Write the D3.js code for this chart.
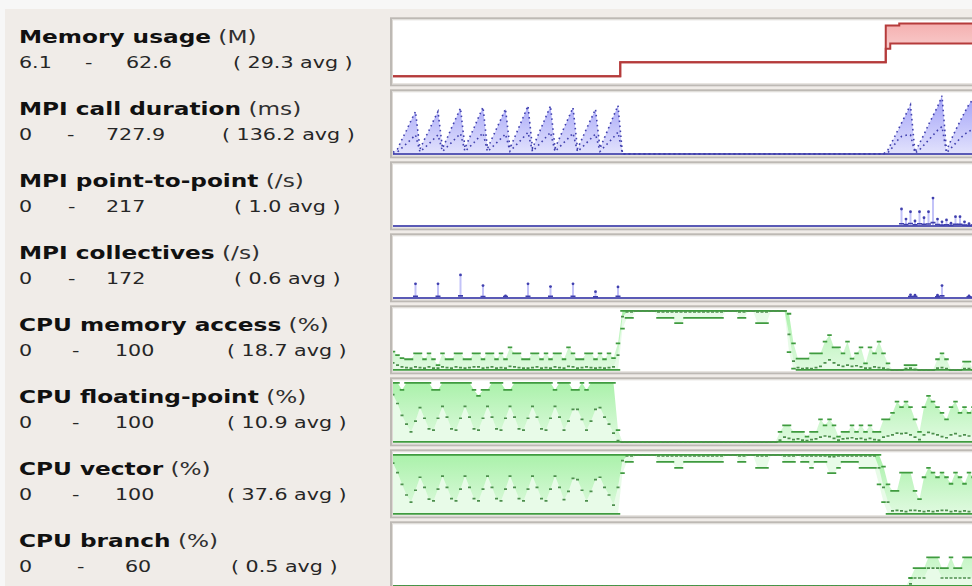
<!DOCTYPE html>
<meta charset="utf-8">

<!-- Load d3.js -->
<script src="https://d3js.org/d3.v7.min.js"></script>

<style>
body { margin: 0; background: #f7f7f7; }
text { font-family: "DejaVu Sans", sans-serif; }
</style>

<div id="my_dataviz"></div>

<script>

// metric labels
var names = ["Memory usage", "MPI call duration", "MPI point-to-point", "MPI collectives",
             "CPU memory access", "CPU floating-point", "CPU vector", "CPU branch"];
var units = ["(M)", "(ms)", "(/s)", "(/s)", "(%)", "(%)", "(%)", "(%)"];
var mins  = ["6.1", "0", "0", "0", "0", "0", "0", "0"];
var maxs  = ["62.6", "727.9", "217", "172", "100", "100", "100", "60"];
var avgs  = ["29.3", "136.2", "1.0", "0.6", "18.7", "10.9", "37.6", "0.5"];

// one value per sample (130 samples across the visible timeline)
var memMean = [
 6.1,6.1,6.1,6.1,6.1,6.1,6.1,6.1,6.1,6.1,
 6.1,6.1,6.1,6.1,6.1,6.1,6.1,6.1,6.1,6.1,
 6.1,6.1,6.1,6.1,6.1,6.1,6.1,6.1,6.1,6.1,
 6.1,6.1,6.1,6.1,6.1,6.1,6.1,6.1,6.1,6.1,
 6.1,6.1,6.1,6.1,6.1,6.1,6.1,6.1,6.1,6.1,
 6.1,20.9,20.9,20.9,20.9,20.9,20.9,20.9,20.9,20.9,
 20.9,20.9,20.9,20.9,20.9,20.9,20.9,20.9,20.9,20.9,
 20.9,20.9,20.9,20.9,20.9,20.9,20.9,20.9,20.9,20.9,
 20.9,20.9,20.9,20.9,20.9,20.9,20.9,20.9,20.9,20.9,
 20.9,20.9,20.9,20.9,20.9,20.9,20.9,20.9,20.9,20.9,
 20.9,20.9,20.9,20.9,20.9,20.9,20.9,20.9,20.9,20.9,
 35,40.8,40.8,40.8,40.8,40.8,40.8,40.8,40.8,40.8,
 40.8,40.8,40.8,40.8,40.8,40.8,40.8,40.8,40.8,40.8];
var memMax = [
 6.1,6.1,6.1,6.1,6.1,6.1,6.1,6.1,6.1,6.1,
 6.1,6.1,6.1,6.1,6.1,6.1,6.1,6.1,6.1,6.1,
 6.1,6.1,6.1,6.1,6.1,6.1,6.1,6.1,6.1,6.1,
 6.1,6.1,6.1,6.1,6.1,6.1,6.1,6.1,6.1,6.1,
 6.1,6.1,6.1,6.1,6.1,6.1,6.1,6.1,6.1,6.1,
 6.1,20.9,20.9,20.9,20.9,20.9,20.9,20.9,20.9,20.9,
 20.9,20.9,20.9,20.9,20.9,20.9,20.9,20.9,20.9,20.9,
 20.9,20.9,20.9,20.9,20.9,20.9,20.9,20.9,20.9,20.9,
 20.9,20.9,20.9,20.9,20.9,20.9,20.9,20.9,20.9,20.9,
 20.9,20.9,20.9,20.9,20.9,20.9,20.9,20.9,20.9,20.9,
 20.9,20.9,20.9,20.9,20.9,20.9,20.9,20.9,20.9,20.9,
 59.7,59.7,59.7,61.8,61.8,61.8,61.8,61.8,61.8,61.8,
 61.8,61.8,61.8,61.8,61.8,61.8,61.8,61.8,61.8,61.8];

var durMax = [
 20,60,180,290,410,522,60,180,290,410,
 522,70,190,320,440,564,70,200,320,450,
 576,65,190,310,430,555,70,200,330,460,
 592,70,200,330,460,592,70,195,320,445,
 571,65,185,310,430,551,70,200,330,465,
 596,0,0,0,0,0,0,0,0,0,
 0,0,0,0,0,0,0,0,0,0,
 0,0,0,0,0,0,0,0,0,0,
 0,0,0,0,0,0,0,0,0,0,
 0,0,0,0,0,0,0,0,0,0,
 0,0,0,0,0,0,0,0,0,0,
 50,160,270,380,490,604,20,130,240,360,
 470,580,715,40,170,290,400,510,610,680];
var durMean = [
 5,25,75,125,180,234,25,75,125,180,
 234,30,85,140,195,250,30,85,140,200,
 258,28,80,135,190,245,30,90,145,205,
 265,30,90,145,205,265,30,85,140,195,
 255,28,80,135,190,245,30,90,145,205,
 268,0,0,0,0,0,0,0,0,0,
 0,0,0,0,0,0,0,0,0,0,
 0,0,0,0,0,0,0,0,0,0,
 0,0,0,0,0,0,0,0,0,0,
 0,0,0,0,0,0,0,0,0,0,
 0,0,0,0,0,0,0,0,0,0,
 15,80,160,215,230,234,10,50,110,170,
 230,290,337,15,70,130,190,240,280,300];

var p2pMax = [
 0,0,0,0,0,0,0,0,0,0,
 0,0,0,0,0,0,0,0,0,0,
 0,0,0,0,0,0,0,0,0,0,
 0,0,0,0,0,0,0,0,0,0,
 0,0,0,0,0,0,0,0,0,0,
 0,0,0,0,0,0,0,0,0,0,
 0,0,0,0,0,0,0,0,0,0,
 0,0,0,0,0,0,0,0,0,0,
 0,0,0,0,0,0,0,0,0,0,
 0,0,0,0,0,0,0,0,0,0,
 0,0,0,0,0,0,0,0,0,0,
 0,0,0,62,25,52,18,52,30,52,
 102,25,15,22,10,34,34,15,8,12];
var p2pMean = [
 0,0,0,0,0,0,0,0,0,0,
 0,0,0,0,0,0,0,0,0,0,
 0,0,0,0,0,0,0,0,0,0,
 0,0,0,0,0,0,0,0,0,0,
 0,0,0,0,0,0,0,0,0,0,
 0,0,0,0,0,0,0,0,0,0,
 0,0,0,0,0,0,0,0,0,0,
 0,0,0,0,0,0,0,0,0,0,
 0,0,0,0,0,0,0,0,0,0,
 0,0,0,0,0,0,0,0,0,0,
 0,0,0,0,0,0,0,0,0,0,
 0,0,0,8,5,9,4,8,6,7,
 12,5,3,4,2,6,6,3,2,3];

var collMax = [
 0,0,0,0,0,41,0,0,0,0,
 41,0,0,0,0,67,0,0,0,0,
 36,0,0,0,0,6,0,0,0,0,
 41,0,0,0,0,33,0,0,0,0,
 41,0,0,0,0,18,0,0,0,0,
 32,0,0,0,0,0,0,0,0,0,
 0,0,0,0,0,0,0,0,0,0,
 0,0,0,0,0,0,0,0,0,0,
 0,0,0,0,0,0,0,0,0,0,
 0,0,0,0,0,0,0,0,0,0,
 0,0,0,0,0,0,0,0,0,0,
 0,0,0,0,0,9,8,0,0,0,
 0,8,36,0,0,0,0,0,6,5];
var collMean = [
 0,0,0,0,0,5,0,0,0,0,
 5,0,0,0,0,6,0,0,0,0,
 4,0,0,0,0,4,0,0,0,0,
 5,0,0,0,0,5,0,0,0,0,
 5,0,0,0,0,3,0,0,0,0,
 5,0,0,0,0,0,0,0,0,0,
 0,0,0,0,0,0,0,0,0,0,
 0,0,0,0,0,0,0,0,0,0,
 0,0,0,0,0,0,0,0,0,0,
 0,0,0,0,0,0,0,0,0,0,
 0,0,0,0,0,0,0,0,0,0,
 0,0,0,0,0,4,4,0,0,0,
 0,3,6,0,0,0,0,0,3,2];

var cpuMemMax = [
 31,25,20,18,18,28,28,18,28,18,
 8,28,18,18,28,28,18,18,28,28,
 18,28,28,18,28,18,38,28,28,18,
 18,28,28,18,28,18,28,28,18,38,
 28,18,18,28,28,18,28,18,28,20,
 45,100,100,100,100,100,100,100,100,100,
 100,100,100,100,100,100,100,100,100,100,
 100,100,100,100,100,100,100,100,100,100,
 100,100,100,100,100,100,100,100,95,45,
 19,19,19,28,28,28,48,59,38,38,
 28,48,19,28,38,11,38,28,48,28,
 11,0,0,0,8,8,8,0,0,0,
 0,18,28,18,0,0,0,14,14,0];
var cpuMemMean = [
 12,8,5,4,3,5,4,3,5,3,
 3,5,4,3,5,4,3,4,5,5,
 3,4,5,3,4,3,6,5,4,3,
 3,4,5,3,4,3,5,4,3,6,
 5,3,4,5,4,3,4,3,4,5,
 25,90,98,98,100,100,100,100,100,98,
 98,98,98,98,98,98,98,98,98,98,
 98,98,98,98,100,100,100,98,98,100,
 100,98,98,98,100,100,100,100,60,15,
 4,2,3,2,4,6,12,17,12,8,
 6,8,6,7,5,3,3,5,4,3,
 1,0,0,0,2,3,1,0,0,0,
 0,3,4,2,0,0,0,2,2,0];
var cpuMemMin = [
 0,0,0,0,0,0,0,0,0,0,
 0,0,0,0,0,0,0,0,0,0,
 0,0,0,0,0,0,0,0,0,0,
 0,0,0,0,0,0,0,0,0,0,
 0,0,0,0,0,0,0,0,0,0,
 0,70,88,88,100,100,100,100,100,88,
 88,88,88,79,79,88,88,88,88,88,
 88,88,88,88,100,100,100,88,88,100,
 100,79,79,79,100,100,100,100,30,2,
 0,0,0,0,0,0,0,0,0,0,
 0,0,0,0,0,0,0,0,0,0,
 0,0,0,0,0,0,0,0,0,0,
 0,0,0,0,0,0,0,0,0,0];

var fpMax = [
 100,100,88,100,100,100,100,100,100,88,
 88,100,100,100,100,100,100,100,88,78,
 88,88,100,100,100,88,88,100,100,100,
 100,100,100,100,100,100,88,100,100,100,
 88,88,100,88,100,100,100,100,100,100,
 20,0,0,0,0,0,0,0,0,0,
 0,0,0,0,0,0,0,0,0,0,
 0,0,0,0,0,0,0,0,0,0,
 0,0,0,0,0,0,17,28,28,17,
 17,17,9,17,17,38,28,38,28,9,
 17,17,28,17,28,17,28,17,17,38,
 38,49,68,59,68,59,38,17,59,78,
 68,59,49,38,59,68,49,59,49,59];
var fpMean = [
 80,65,45,30,17,35,58,40,22,20,
 40,60,42,22,20,40,60,42,22,20,
 40,60,42,22,20,40,60,42,22,20,
 40,60,42,22,20,40,60,42,20,35,
 55,55,38,20,35,55,58,42,30,15,
 2,0,0,0,0,0,0,0,0,0,
 0,0,0,0,0,0,0,0,0,0,
 0,0,0,0,0,0,0,0,0,0,
 0,0,0,0,0,0,3,8,6,4,
 5,3,2,4,5,8,10,9,6,3,
 5,6,7,5,6,4,6,4,3,8,
 10,12,15,14,15,12,8,4,12,16,
 14,12,9,7,12,14,10,12,10,12];

var vecMax = [
 100,100,100,100,100,100,100,100,100,100,
 100,100,100,100,100,100,100,100,100,100,
 100,100,100,100,100,100,100,100,100,100,
 100,100,100,100,100,100,100,100,100,100,
 100,100,100,100,100,100,100,100,100,100,
 100,100,100,100,100,100,100,100,100,100,
 100,100,100,100,100,100,100,100,100,100,
 100,100,100,100,100,100,100,100,100,100,
 100,100,100,100,100,100,100,100,100,100,
 100,100,100,100,100,100,100,100,100,100,
 100,100,100,100,100,100,100,100,100,80,
 50,39,39,70,70,70,39,25,62,78,
 70,62,70,62,51,70,62,51,70,62];
var vecMean = [
 86,70,50,32,20,40,62,45,25,22,
 42,64,45,26,22,42,64,45,26,22,
 42,64,45,26,22,42,64,45,26,22,
 42,64,45,26,22,42,64,45,24,38,
 60,58,40,22,38,58,62,45,32,15,
 45,90,98,98,100,100,100,100,100,98,
 98,98,98,98,98,98,98,98,98,98,
 98,98,98,98,100,100,100,98,98,100,
 100,98,98,98,100,100,100,98,98,98,
 100,98,98,98,98,98,98,97,97,98,
 98,98,98,98,98,98,98,98,78,45,
 20,5,6,5,4,6,6,5,4,5,
 4,5,6,6,4,5,4,5,4,5];
var vecMin = [
 0,0,0,0,0,0,0,0,0,0,
 0,0,0,0,0,0,0,0,0,0,
 0,0,0,0,0,0,0,0,0,0,
 0,0,0,0,0,0,0,0,0,0,
 0,0,0,0,0,0,0,0,0,0,
 0,69,88,88,100,100,100,100,100,88,
 88,88,88,78,78,88,88,88,88,88,
 88,88,88,88,100,100,100,88,88,100,
 100,78,78,78,100,100,100,88,88,88,
 100,88,88,78,88,88,88,69,69,78,
 88,88,88,88,78,78,78,78,50,20,
 0,0,0,0,0,0,0,0,0,0,
 0,0,0,0,0,0,0,0,0,0];

var brMax = [
 0,0,0,0,0,0,0,0,0,0,
 0,0,0,0,0,0,0,0,0,0,
 0,0,0,0,0,0,0,0,0,0,
 0,0,0,0,0,0,0,0,0,0,
 0,0,0,0,0,0,0,0,0,0,
 0,0,0,0,0,0,0,0,0,0,
 0,0,0,0,0,0,0,0,0,0,
 0,0,0,0,0,0,0,0,0,0,
 0,0,0,0,0,0,0,0,0,0,
 0,0,0,0,0,0,0,0,0,0,
 0,0,0,0,0,0,0,0,0,0,
 0,0,0,0,0,8,18,18,18,29,
 29,29,18,18,29,18,18,29,29,29];
var brMean = [
 0,0,0,0,0,0,0,0,0,0,
 0,0,0,0,0,0,0,0,0,0,
 0,0,0,0,0,0,0,0,0,0,
 0,0,0,0,0,0,0,0,0,0,
 0,0,0,0,0,0,0,0,0,0,
 0,0,0,0,0,0,0,0,0,0,
 0,0,0,0,0,0,0,0,0,0,
 0,0,0,0,0,0,0,0,0,0,
 0,0,0,0,0,0,0,0,0,0,
 0,0,0,0,0,0,0,0,0,0,
 0,0,0,0,0,0,0,0,0,0,
 0,0,0,0,0,2,8,8,8,18,
 18,18,8,8,8,8,8,8,8,8];

// which series go in which strip, and how they are drawn
var metrics = [
  {kind: "mem",   mean: memMean,    max: memMax,    min: memMean},
  {kind: "mpi",   mean: durMean,    max: durMax},
  {kind: "spike", mean: p2pMean,    max: p2pMax},
  {kind: "spike", mean: collMean,   max: collMax},
  {kind: "cpu",   mean: cpuMemMean, max: cpuMemMax, min: cpuMemMin},
  {kind: "cpu",   mean: fpMean,     max: fpMax},
  {kind: "cpu",   mean: vecMean,    max: vecMax,    min: vecMin},
  {kind: "cpu",   mean: brMean,     max: brMax}
];

var colors = {
  mem:   {line: "#b53b3b", fill: "#ea5f5f", top: 0.5, bottom: 0.1},
  mpi:   {line: "#4040ae", fill: "#5f5ff2", top: 0.6, bottom: 0.18},
  spike: {line: "#4040ae", fill: "#7a7af0"},
  cpu:   {line: "#3f9b3f", fill: "#3ee03e", top: 0.44, bottom: 0.16}
};

// x positions of the four parts of the "min - max (avg)" line, per row
var statX = [[19,85,126,233],[19,67,106,222],[19,68,106,234],[19,68,106,234],
             [19,72,115,227],[19,72,115,227],[19,72,115,227],[19,77,125,231]];

metrics.forEach(function(m, k) {
  if (m.mean.length != 130 || m.max.length != 130 || (m.min && m.min.length != 130))
    console.error("bad length in row " + k);
});

var W = 972, H = 586, stripH = 72, firstTop = 17.3, xStretch = 1.29;
var step = 4.5;

var svg = d3.select("#my_dataviz")
  .append("svg")
    .attr("width", W)
    .attr("height", H);

svg.append("rect")
  .attr("x", 5).attr("y", 9)
  .attr("width", W).attr("height", H)
  .attr("fill", "#f0ece8");

var defs = svg.append("defs");

// shared time scale
var x = d3.scaleLinear()
  .domain([0, 129])
  .range([393, 393 + 129 * step]);

// one short flat stroke per sample, so equal neighbours join into a line
function dashPath(vals, y, w) {
  return vals.map(function(v, i) {
    return "M" + (x(i) - w / 2) + "," + y(v) + "h" + w;
  }).join("");
}

metrics.forEach(function(m, k) {
  var top = firstTop + stripH * k;
  var c = colors[m.kind];
  var lo = function(i) { return m.min ? m.min[i] : 0; };

  var y = d3.scaleLinear()
    .domain([0, +maxs[k]])
    .range([top + 64.6, top + 5.5]);

  // labels
  var title = svg.append("g")
    .attr("transform", "translate(19," + (top + 25.8) + ") scale(" + xStretch + ",1)")
    .append("text")
      .attr("font-size", 18)
      .attr("fill", "#111");
  title.append("tspan").attr("font-weight", "bold").text(names[k]);
  title.append("tspan").attr("fill", "#303030").text(" " + units[k]);

  var parts = [mins[k], "-", maxs[k], "( " + avgs[k] + " avg )"];
  parts.forEach(function(p, j) {
    svg.append("g")
      .attr("transform", "translate(" + statX[k][j] + "," + (top + 50.8) + ") scale(" + xStretch + ",1)")
      .append("text")
        .attr("font-size", 16)
        .attr("fill", "#262626")
        .text(p);
  });

  // strip frame
  svg.append("rect")
    .attr("x", 391).attr("y", top + 1)
    .attr("width", 620).attr("height", 67)
    .attr("fill", "#fff")
    .attr("stroke", "#bdb9b4")
    .attr("stroke-width", 2);
  svg.append("rect")
    .attr("x", 392.5).attr("y", top + 2.5)
    .attr("width", 620).attr("height", 64)
    .attr("fill", "none")
    .attr("stroke", "#dedad5")
    .attr("stroke-width", 1);

  defs.append("clipPath").attr("id", "clip" + k)
    .append("rect")
      .attr("x", 393).attr("y", top + 2.5)
      .attr("width", 620).attr("height", 64.5);

  var plot = svg.append("g").attr("clip-path", "url(#clip" + k + ")");

  if (c.top) {
    var gr = defs.append("linearGradient")
      .attr("id", "grad" + k)
      .attr("gradientUnits", "userSpaceOnUse")
      .attr("x1", 0).attr("x2", 0)
      .attr("y1", y.range()[1]).attr("y2", y.range()[0]);
    gr.append("stop").attr("offset", "0%").attr("stop-color", c.fill).attr("stop-opacity", c.top);
    gr.append("stop").attr("offset", "100%").attr("stop-color", c.fill).attr("stop-opacity", c.bottom);
  }

  if (m.kind == "mem" || m.kind == "mpi") {
    var curve = m.kind == "mem" ? d3.curveStep : d3.curveLinear;
    var area = d3.area()
      .curve(curve)
      .x(function(d, i) { return x(i); })
      .y0(function(d, i) { return y(lo(i)); })
      .y1(function(d) { return y(d); });
    plot.append("path")
      .datum(m.max)
      .attr("d", area)
      .attr("fill", "url(#grad" + k + ")");

    var line = d3.line()
      .curve(curve)
      .x(function(d, i) { return x(i); })
      .y(function(d) { return y(d); });

    if (m.kind == "mpi") {
      plot.append("path")
        .datum(m.max.map(function(d, i) { return lo(i); }))
        .attr("d", line)
        .attr("fill", "none")
        .attr("stroke", "#5a5ab6")
        .attr("stroke-width", 2);
    }
    [m.mean, m.max].forEach(function(s) {
      plot.append("path")
        .datum(s)
        .attr("d", line)
        .attr("fill", "none")
        .attr("stroke", c.line)
        .attr("stroke-width", m.kind == "mem" ? 2 : 1.6)
        .attr("stroke-dasharray", m.kind == "mem" ? null : "1.6 3.4");
    });
  }

  if (m.kind == "spike") {
    var pts = m.max.map(function(v, i) { return {i: i, v: v, mn: m.mean[i]}; })
      .filter(function(d) { return d.v > 0; });

    plot.selectAll(".stem")
      .data(pts)
      .enter().append("line")
        .attr("x1", function(d) { return x(d.i); })
        .attr("x2", function(d) { return x(d.i); })
        .attr("y1", y(0))
        .attr("y2", function(d) { return y(d.v); })
        .attr("stroke", c.fill)
        .attr("stroke-opacity", 0.45)
        .attr("stroke-width", 2);

    plot.append("path")
      .attr("d", d3.line()
        .x(function(d, i) { return x(i); })
        .y(function(d, i) { return y(lo(i)); })(m.max))
      .attr("fill", "none")
      .attr("stroke", "#5a5ab6")
      .attr("stroke-width", 2);

    plot.selectAll(".avg")
      .data(pts)
      .enter().append("line")
        .attr("x1", function(d) { return x(d.i) - 2.5; })
        .attr("x2", function(d) { return x(d.i) + 2.5; })
        .attr("y1", function(d) { return y(d.mn); })
        .attr("y2", function(d) { return y(d.mn); })
        .attr("stroke", c.line)
        .attr("stroke-width", 1.6);

    plot.selectAll(".top")
      .data(pts)
      .enter().append("circle")
        .attr("cx", function(d) { return x(d.i); })
        .attr("cy", function(d) { return y(d.v); })
        .attr("r", 1.4)
        .attr("fill", c.line);
  }

  if (m.kind == "cpu") {
    // mean..max band carries the colour, min..mean stays pale
    var upper = d3.area()
      .x(function(d, i) { return x(i); })
      .y0(function(d, i) { return y(m.mean[i]); })
      .y1(function(d) { return y(d); });
    var lower = d3.area()
      .x(function(d, i) { return x(i); })
      .y0(function(d, i) { return y(lo(i)); })
      .y1(function(d, i) { return y(m.mean[i]); });

    plot.append("path")
      .datum(m.max)
      .attr("d", lower)
      .attr("fill", c.fill)
      .attr("fill-opacity", 0.12);
    plot.append("path")
      .datum(m.max)
      .attr("d", upper)
      .attr("fill", "url(#grad" + k + ")");

    plot.append("path")
      .attr("d", dashPath(m.max.map(function(d, i) { return lo(i); }), y, step))
      .attr("fill", "none")
      .attr("stroke", c.line)
      .attr("stroke-width", 1.8);
    plot.append("path")
      .attr("d", dashPath(m.max, y, step))
      .attr("fill", "none")
      .attr("stroke", c.line)
      .attr("stroke-width", 1.8);
    plot.append("path")
      .attr("d", dashPath(m.mean, y, 3))
      .attr("fill", "none")
      .attr("stroke", "#4d8f4d")
      .attr("stroke-width", 1.7);
  }
});

</script>
